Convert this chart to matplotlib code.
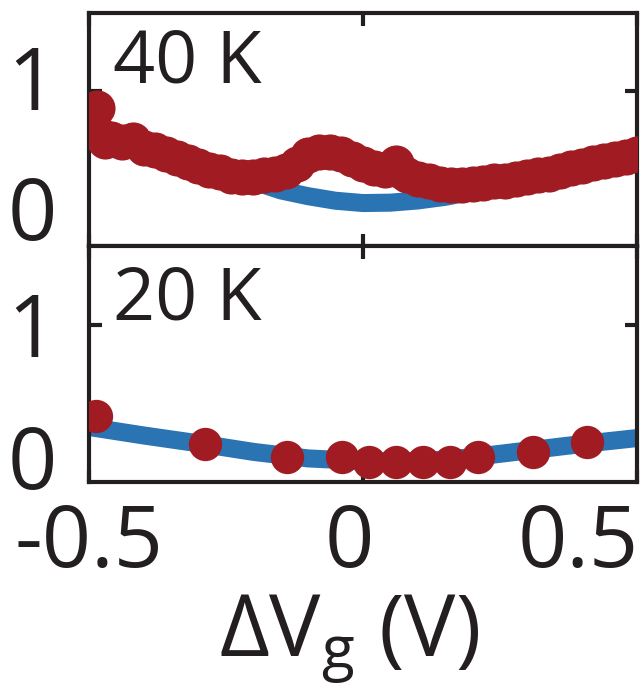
import matplotlib
matplotlib.use("Agg")
import matplotlib.pyplot as plt
import matplotlib.transforms as mtransforms

plt.rcParams['font.family'] = ['Open Sans', 'DejaVu Sans']
plt.rcParams['mathtext.fontset'] = 'custom'
plt.rcParams['mathtext.rm'] = 'Open Sans'
plt.rcParams['mathtext.it'] = 'Open Sans:italic'

# 40 K panel
x40_data = [-0.485, -0.48, -0.47, -0.46, -0.44, -0.42, -0.40, -0.38, -0.36, -0.34, -0.32, -0.30,
            -0.28, -0.26, -0.24, -0.22, -0.20, -0.18, -0.16, -0.14, -0.12, -0.10,
            -0.08, -0.06, -0.04, -0.02, 0.00, 0.02, 0.04, 0.06, 0.07, 0.08, 0.10,
            0.12, 0.14, 0.16, 0.18, 0.20, 0.22, 0.24, 0.26, 0.28, 0.30, 0.32, 0.34,
            0.36, 0.38, 0.40, 0.42, 0.44, 0.46, 0.48, 0.50]
y40_data = [0.87, 0.66, 0.61, 0.63, 0.60, 0.62, 0.56, 0.54, 0.51, 0.48, 0.45, 0.42,
            0.39, 0.37, 0.34, 0.33, 0.33, 0.35, 0.36, 0.38, 0.43, 0.50,
            0.53, 0.53, 0.51, 0.47, 0.43, 0.40, 0.39, 0.44, 0.38, 0.35, 0.32,
            0.30, 0.28, 0.27, 0.27, 0.28, 0.29, 0.30, 0.30, 0.32, 0.33, 0.35, 0.36,
            0.38, 0.40, 0.42, 0.44, 0.46, 0.47, 0.49, 0.51]
x40_fit = [-0.5, -0.45, -0.40, -0.35, -0.30, -0.25, -0.20, -0.15, -0.10, -0.05, 0.00,
           0.05, 0.10, 0.15, 0.20, 0.25, 0.30, 0.35, 0.40, 0.45, 0.50]
y40_fit = [0.68, 0.64, 0.60, 0.54, 0.46, 0.38, 0.30, 0.23, 0.185, 0.15, 0.132,
           0.135, 0.152, 0.18, 0.22, 0.255, 0.29, 0.33, 0.37, 0.41, 0.455]

# 20 K panel
x20_data = [-0.487, -0.288, -0.139, -0.038, 0.011, 0.060, 0.109, 0.159, 0.210, 0.310, 0.409]
y20_data = [0.306, 0.088, -0.007, -0.007, -0.05, -0.045, -0.045, -0.045, -0.007, 0.027, 0.103]
x20_fit = [-0.5, -0.4, -0.3, -0.2, -0.1, 0.0, 0.05, 0.1, 0.15, 0.2, 0.3, 0.4, 0.5]
y20_fit = [0.22, 0.155, 0.095, 0.03, -0.02, -0.04, -0.045, -0.04, -0.03, -0.01, 0.04, 0.09, 0.135]

panel_labels = ["40 K", "20 K"]
xticks = [-0.5, 0, 0.5]
xticklabels = ["-0.5", "0", "0.5"]
yticks = [0, 1]
yticklabels = ["0", "1"]

red = '#A01C22'
blue = '#2A74B4'
ink = '#231F20'

fig = plt.figure(figsize=(6.44, 6.88), dpi=100)
ax1 = fig.add_axes([0.138, 0.6424, 0.851, 0.3387])
ax2 = fig.add_axes([0.138, 0.2994, 0.851, 0.343])

panels = [(ax1, x40_fit, y40_fit, x40_data, y40_data, 26),
          (ax2, x20_fit, y20_fit, x20_data, y20_data, 24)]

for i, (ax, xf, yf, xd, yd, ms) in enumerate(panels):
    ax.plot(xf, yf, color=blue, lw=13, solid_capstyle='butt', solid_joinstyle='round', zorder=2)
    ax.plot(xd, yd, 'o', color=red, ms=ms, mew=0, zorder=3)
    ax.set_xlim(-0.5, 0.5)
    ax.set_ylim(-0.2, 1.6)
    ax.set_xticks(xticks)
    ax.set_xticklabels(xticklabels)
    ax.set_yticks(yticks)
    ax.set_yticklabels(yticklabels)
    for s in ax.spines.values():
        s.set_linewidth(3)
        s.set_color(ink)
    ax.tick_params(direction='in', length=9, width=3, color=ink, labelcolor=ink,
                   top=True, right=True, labelsize=62)
    ax.tick_params(axis='y', pad=23)
    ax.tick_params(axis='x', pad=14)
    t0 = ax.yaxis.get_major_ticks()[0]
    t0.tick1line.set_visible(False)
    t0.tick2line.set_visible(False)
    ax.text(0.044, 0.94 if i == 0 else 0.924, panel_labels[i], transform=ax.transAxes,
            fontsize=53, color=ink, ha='left', va='top')

ax1.tick_params(axis='x', labelbottom=False)

# hand-placed tick labels as in the original figure
for lab, dx in zip(ax2.get_xticklabels(), [0, -14, -59]):
    lab.set_transform(lab.get_transform() + mtransforms.ScaledTranslation(dx / 100, 0, fig.dpi_scale_trans))
for lab in ax1.get_yticklabels():
    lab.set_transform(lab.get_transform() + mtransforms.ScaledTranslation(0, 0.13, fig.dpi_scale_trans))

ax2.set_xlabel(r'ΔV$_{\mathrm{g}}$ (V)', fontsize=62, color=ink)
ax2.xaxis.set_label_coords(0.474, -0.47)

fig.savefig('out.png', dpi=100)
